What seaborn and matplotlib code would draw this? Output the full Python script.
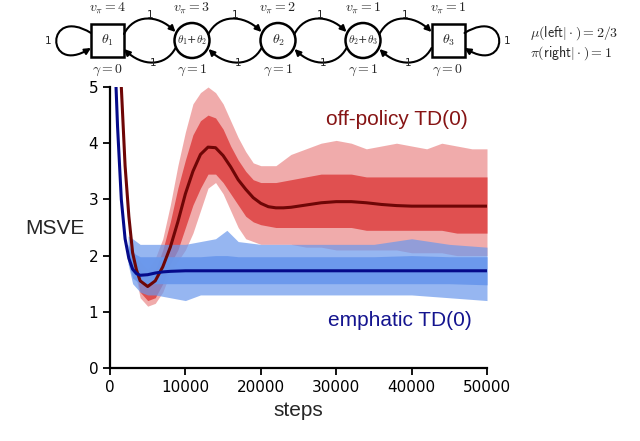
import numpy as np
import pandas as pd
import seaborn as sns
import matplotlib
matplotlib.use("Agg")
import matplotlib.pyplot as plt
from matplotlib.patches import Rectangle, Circle, FancyArrowPatch
from matplotlib.path import Path

# mean curves
red_steps = [0, 1000, 1500, 2000, 2500, 3000, 3500, 4000, 5000, 6000, 7000, 8000,
             9000, 10000, 11000, 12000, 13000, 14000, 15000, 16000, 17000, 18000,
             19000, 20000, 21000, 22000, 23000, 24000, 25000, 26000, 27000, 28000,
             29000, 30000, 32000, 34000, 36000, 38000, 40000, 45000, 50000]
red_mean = [8.0, 6.0, 5.0, 3.6, 2.7, 2.05, 1.75, 1.55, 1.45, 1.55, 1.8, 2.15,
            2.6, 3.1, 3.5, 3.8, 3.93, 3.92, 3.78, 3.58, 3.35, 3.18,
            3.03, 2.93, 2.87, 2.85, 2.85, 2.86, 2.88, 2.9, 2.92, 2.94,
            2.95, 2.96, 2.96, 2.94, 2.91, 2.89, 2.88, 2.88, 2.88]

blue_steps = [0, 500, 800, 1000, 1500, 2000, 2500, 3000, 3500, 4000, 5000, 6000,
              7000, 8000, 10000, 20000, 30000, 40000, 50000]
blue_mean = [8.0, 6.0, 5.0, 4.3, 3.0, 2.3, 1.95, 1.76, 1.68, 1.65, 1.66, 1.69,
             1.71, 1.72, 1.73, 1.73, 1.73, 1.73, 1.73]

# spread of the individual runs: outer envelope and dense core
red_band_steps = [3000, 4000, 5000, 6000, 7000, 8000, 9000, 10000, 11000, 12000,
                  13000, 14000, 15000, 16000, 17000, 18000, 19000, 20000, 22000,
                  24000, 26000, 28000, 30000, 32000, 34000, 36000, 38000, 40000,
                  42000, 44000, 46000, 48000, 50000]
red_hi = [2.1, 1.9, 1.75, 1.95, 2.3, 2.9, 3.6, 4.2, 4.7, 4.9,
          5.0, 4.9, 4.7, 4.4, 4.1, 3.85, 3.65, 3.6, 3.6,
          3.8, 3.9, 4.0, 4.05, 4.0, 3.9, 3.95, 4.0, 3.95,
          3.9, 4.0, 3.95, 3.9, 3.9]
red_lo = [1.9, 1.25, 1.1, 1.15, 1.35, 1.7, 1.9, 2.1, 2.4, 2.8,
          3.2, 3.3, 3.1, 2.8, 2.5, 2.3, 2.25, 2.2, 2.2,
          2.2, 2.15, 2.15, 2.1, 2.1, 2.1, 2.1, 2.1, 2.05,
          2.05, 2.05, 2.0, 2.0, 2.0]
red_core_hi = [2.05, 1.75, 1.6, 1.75, 2.1, 2.6, 3.2, 3.7, 4.15, 4.4,
               4.5, 4.45, 4.25, 3.95, 3.7, 3.5, 3.35, 3.3, 3.3,
               3.35, 3.4, 3.45, 3.45, 3.45, 3.4, 3.4, 3.4, 3.4,
               3.4, 3.4, 3.4, 3.4, 3.4]
red_core_lo = [1.95, 1.35, 1.2, 1.25, 1.5, 1.85, 2.1, 2.5, 2.9, 3.2,
               3.45, 3.45, 3.3, 3.1, 2.9, 2.7, 2.6, 2.55, 2.5,
               2.5, 2.5, 2.5, 2.5, 2.5, 2.45, 2.45, 2.45, 2.45,
               2.45, 2.45, 2.4, 2.4, 2.4]

blue_band_steps = [2400, 3000, 4000, 5000, 6000, 8000, 10000, 12000, 14000, 15500,
                   17000, 20000, 25000, 30000, 35000, 40000, 45000, 50000]
blue_hi = [2.35, 2.3, 2.2, 2.2, 2.2, 2.2, 2.2, 2.25, 2.3, 2.45,
           2.25, 2.2, 2.2, 2.2, 2.2, 2.3, 2.2, 2.15]
blue_lo = [1.85, 1.5, 1.35, 1.3, 1.3, 1.25, 1.2, 1.3, 1.3, 1.3,
           1.3, 1.3, 1.3, 1.3, 1.3, 1.3, 1.25, 1.2]
blue_core_hi = [2.2, 2.05, 1.98, 1.98, 1.98, 1.98, 1.98, 1.98, 2.0, 2.0,
                1.98, 1.98, 1.98, 1.98, 1.98, 2.0, 1.98, 1.98]
blue_core_lo = [1.9, 1.6, 1.5, 1.5, 1.5, 1.5, 1.5, 1.5, 1.5, 1.5,
                1.5, 1.5, 1.5, 1.5, 1.5, 1.5, 1.5, 1.48]

x_ticks = [0, 10000, 20000, 30000, 40000, 50000]
y_ticks = [0, 1, 2, 3, 4, 5]

RED_RUNS = "#df4646"
RED_MEAN = "#6e0606"
BLUE_RUNS = "#6a98ec"
BLUE_MEAN = "#050a8a"

sns.set_theme(style="ticks")
plt.rcParams["font.family"] = ["DejaVu Sans"]
plt.rcParams["mathtext.fontset"] = "cm"

fig = plt.figure(figsize=(6.4, 4.41), dpi=100)
ax = fig.add_axes([110 / 640, 1 - 368 / 441, 377 / 640, 281 / 441])

ax.fill_between(red_band_steps, red_lo, red_hi, color=RED_RUNS, alpha=0.45, lw=0)
ax.fill_between(red_band_steps, red_core_lo, red_core_hi, color=RED_RUNS, alpha=0.9, lw=0)
sns.lineplot(x=red_steps, y=red_mean, ax=ax, color=RED_MEAN, lw=2.2)
ax.fill_between(blue_band_steps, blue_lo, blue_hi, color=BLUE_RUNS, alpha=0.7, lw=0)
ax.fill_between(blue_band_steps, blue_core_lo, blue_core_hi, color=BLUE_RUNS, alpha=0.95, lw=0)
sns.lineplot(x=blue_steps, y=blue_mean, ax=ax, color=BLUE_MEAN, lw=2.2)

ax.set_xlim(0, 50000)
ax.set_ylim(0, 5)
ax.set_xticks(x_ticks)
ax.set_yticks(y_ticks)
ax.tick_params(labelsize=11, width=1.3, length=5, color="black", labelcolor="black")
sns.despine(ax=ax)
for s in ["left", "bottom"]:
    ax.spines[s].set_linewidth(1.6)
    ax.spines[s].set_color("black")
ax.set_xlabel("")
ax.set_ylabel("")

lab = dict(family=["Liberation Sans", "DejaVu Sans"], fontsize=15)
fig.text(55 / 640, 1 - 228 / 441, "MSVE", ha="center", va="center", **lab)
fig.text(298 / 640, 1 - 410 / 441, "steps", ha="center", va="center", **lab)
ax.text(38100, 4.42, "off-policy TD(0)", color="#861414", ha="center", va="center", **lab)
ax.text(38400, 0.85, "emphatic TD(0)", color="#14148f", ha="center", va="center", **lab)

# chain diagram on top, in pixel coordinates
d = fig.add_axes([0, 0, 1, 1], zorder=5)
d.set_xlim(0, 640)
d.set_ylim(441, 0)
d.axis("off")
d.patch.set_alpha(0)

cy = 40.5
nodes = [(107.5, "box", r"$\theta_1$", r"$v_\pi = 4$", r"$\gamma = 0$"),
         (192, "circ", r"$\theta_1$+$\theta_2$", r"$v_\pi = 3$", r"$\gamma = 1$"),
         (278, "circ", r"$\theta_2$", r"$v_\pi = 2$", r"$\gamma = 1$"),
         (363, "circ", r"$\theta_2$+$\theta_3$", r"$v_\pi = 1$", r"$\gamma = 1$"),
         (448, "box", r"$\theta_3$", r"$v_\pi = 1$", r"$\gamma = 0$")]
half = 16.5
for cx, kind, name, v, g in nodes:
    if kind == "box":
        d.add_patch(Rectangle((cx - half, cy - half), 2 * half, 2 * half,
                              fill=False, lw=1.8, ec="black"))
        d.text(cx, cy, name, ha="center", va="center", fontsize=10)
    else:
        d.add_patch(Circle((cx, cy), 17.5, fill=False, lw=1.8, ec="black"))
        d.text(cx, cy, name, ha="center", va="center",
               fontsize=10 if "+" not in name else 8)
    d.text(cx, 8, v, ha="center", va="center", fontsize=10)
    d.text(cx, 70, g, ha="center", va="center", fontsize=10)

def arrow(verts):
    codes = [Path.MOVETO, Path.CURVE4, Path.CURVE4, Path.CURVE4]
    d.add_patch(FancyArrowPatch(path=Path(verts, codes), arrowstyle="-|>",
                                mutation_scale=9, lw=1.5, color="black"))

for (xa, ka, *_), (xb, kb, *_) in zip(nodes[:-1], nodes[1:]):
    ea = xa + (half if ka == "box" else 16.5)
    eb = xb - (half if kb == "box" else 16.5)
    arrow([(ea, 34), (ea + 10, 14), (eb - 18, 14), (eb, 32)])
    arrow([(eb, 48), (eb - 10, 67), (ea + 18, 67), (ea, 49)])
    mid = (ea + eb) / 2
    d.text(mid, 15, "1", ha="center", va="center", fontsize=7.5)
    d.text(mid + 3, 63, "1", ha="center", va="center", fontsize=7.5)

# self loops
x1 = nodes[0][0] - half
arrow([(x1, 33), (x1 - 46, 5), (x1 - 46, 76), (x1, 48)])
d.text(x1 - 43, cy, "1", ha="center", va="center", fontsize=7.5)
x3 = nodes[-1][0] + half
arrow([(x3, 33), (x3 + 46, 5), (x3 + 46, 76), (x3, 48)])
d.text(x3 + 43, cy, "1", ha="center", va="center", fontsize=7.5)

d.text(530, 33, r"$\mu(\mathsf{left}|\cdot) = 2/3$", ha="left", va="center", fontsize=10)
d.text(530, 53, r"$\pi(\mathsf{right}|\cdot) = 1$", ha="left", va="center", fontsize=10)

fig.savefig("out.png", dpi=100)
